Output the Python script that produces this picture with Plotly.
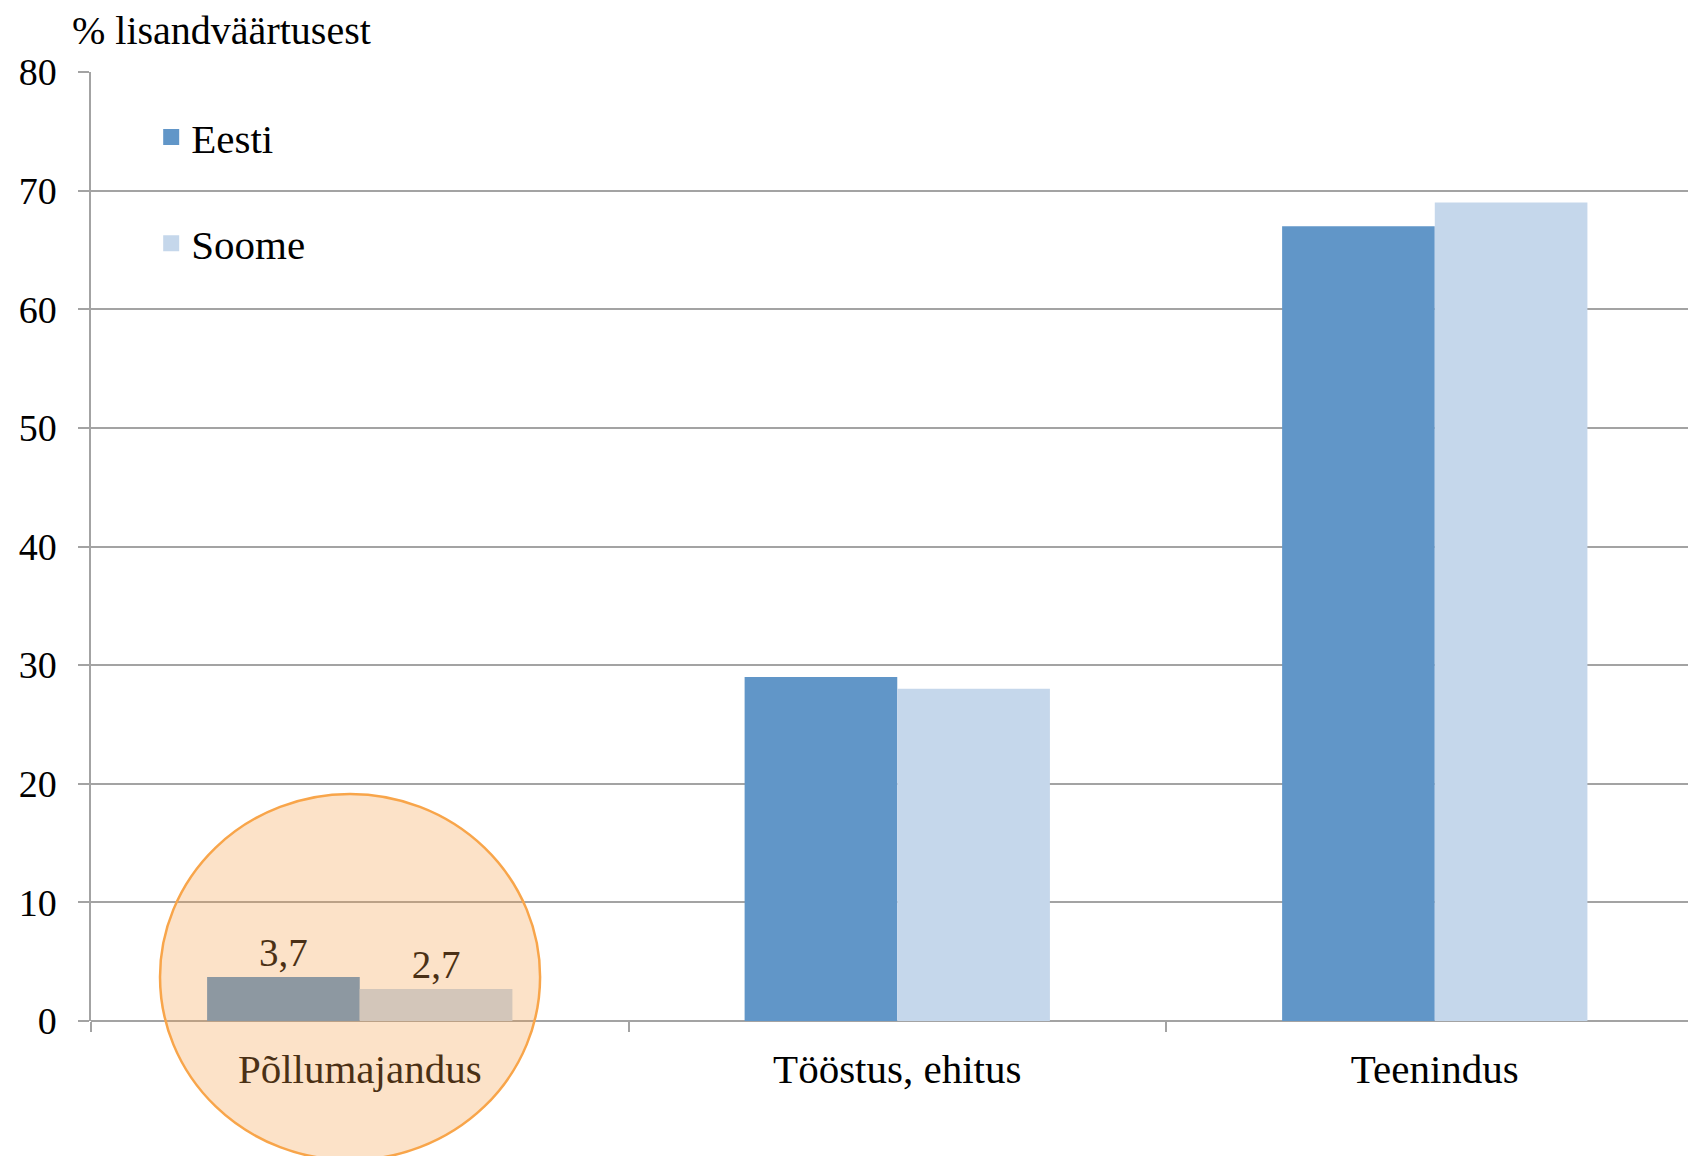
import plotly.graph_objects as go

categories = ["Põllumajandus", "Tööstus, ehitus", "Teenindus"]
eesti = [3.7, 29, 67]
soome = [2.7, 28, 69]
eesti_labels = ["3,7", "", ""]
soome_labels = ["2,7", "", ""]
y_ticks = [0, 10, 20, 30, 40, 50, 60, 70, 80]

FONT = "Georgia, 'Liberation Serif', serif"
GRID = "#a3a3a3"
EESTI_COLOR = "#6196c8"
SOOME_COLOR = "#c5d7eb"

fig = go.Figure()
fig.add_trace(go.Bar(
    x=categories, y=eesti, name="Eesti", showlegend=False,
    marker=dict(color=EESTI_COLOR, line=dict(width=0)),
    text=eesti_labels, textposition="outside", cliponaxis=False,
    textfont=dict(size=39, color="#000000"),
))
fig.add_trace(go.Bar(
    x=categories, y=soome, name="Soome", showlegend=False,
    marker=dict(color=SOOME_COLOR, line=dict(width=0)),
    text=soome_labels, textposition="outside", cliponaxis=False,
    textfont=dict(size=39, color="#000000"),
))
# legend entries with larger square swatches
for name, color, group in [("Eesti", EESTI_COLOR, "a"), ("Soome", SOOME_COLOR, "b")]:
    fig.add_trace(go.Scatter(
        x=[None], y=[None], mode="markers", name=name, legendgroup=group,
        marker=dict(symbol="square", size=16, color=color),
    ))

# highlight circle round the agriculture bars
fig.add_shape(
    type="circle", xref="paper", yref="paper",
    x0=0.043, x1=0.2798, y0=-0.1465, y1=0.2392,
    fillcolor="rgba(246,160,72,0.30)",
    line=dict(color="#f8a54a", width=2.5),
    layer="above",
)

fig.add_annotation(
    text="% lisandväärtusest", xref="paper", yref="paper",
    x=-0.013, y=1.044, xanchor="left", yanchor="middle",
    showarrow=False, font=dict(size=40, color="#000000"),
)

fig.update_layout(
    width=1688, height=1148,
    margin=dict(l=83, r=0, t=64, b=135),
    paper_bgcolor="white", plot_bgcolor="white",
    font=dict(family=FONT, size=40, color="#000000"),
    barmode="group", bargap=0.432, bargroupgap=0,
    showlegend=True,
    legend=dict(
        x=0.0375, y=0.9665, xanchor="left", yanchor="top",
        font=dict(size=41), traceorder="grouped", tracegroupgap=50,
        bgcolor="rgba(0,0,0,0)", itemwidth=30,
    ),
)
fig.update_xaxes(
    range=[-0.5, 2.486], showgrid=False,
    ticks="outside", tickson="boundaries", ticklen=10, tickwidth=1.5,
    tickcolor=GRID, showline=False, tickfont=dict(size=41),
    ticklabelstandoff=20,
)
fig.update_yaxes(
    range=[0, 80], tickvals=y_ticks, showgrid=True, gridcolor=GRID,
    gridwidth=1.5, zeroline=True, zerolinecolor=GRID, zerolinewidth=1.5,
    showline=True, linecolor=GRID, linewidth=1.5,
    ticks="outside", ticklen=11, tickwidth=1.5, tickcolor=GRID,
    ticklabelstandoff=14, tickfont=dict(size=38),
)

fig.write_html("out.html")
